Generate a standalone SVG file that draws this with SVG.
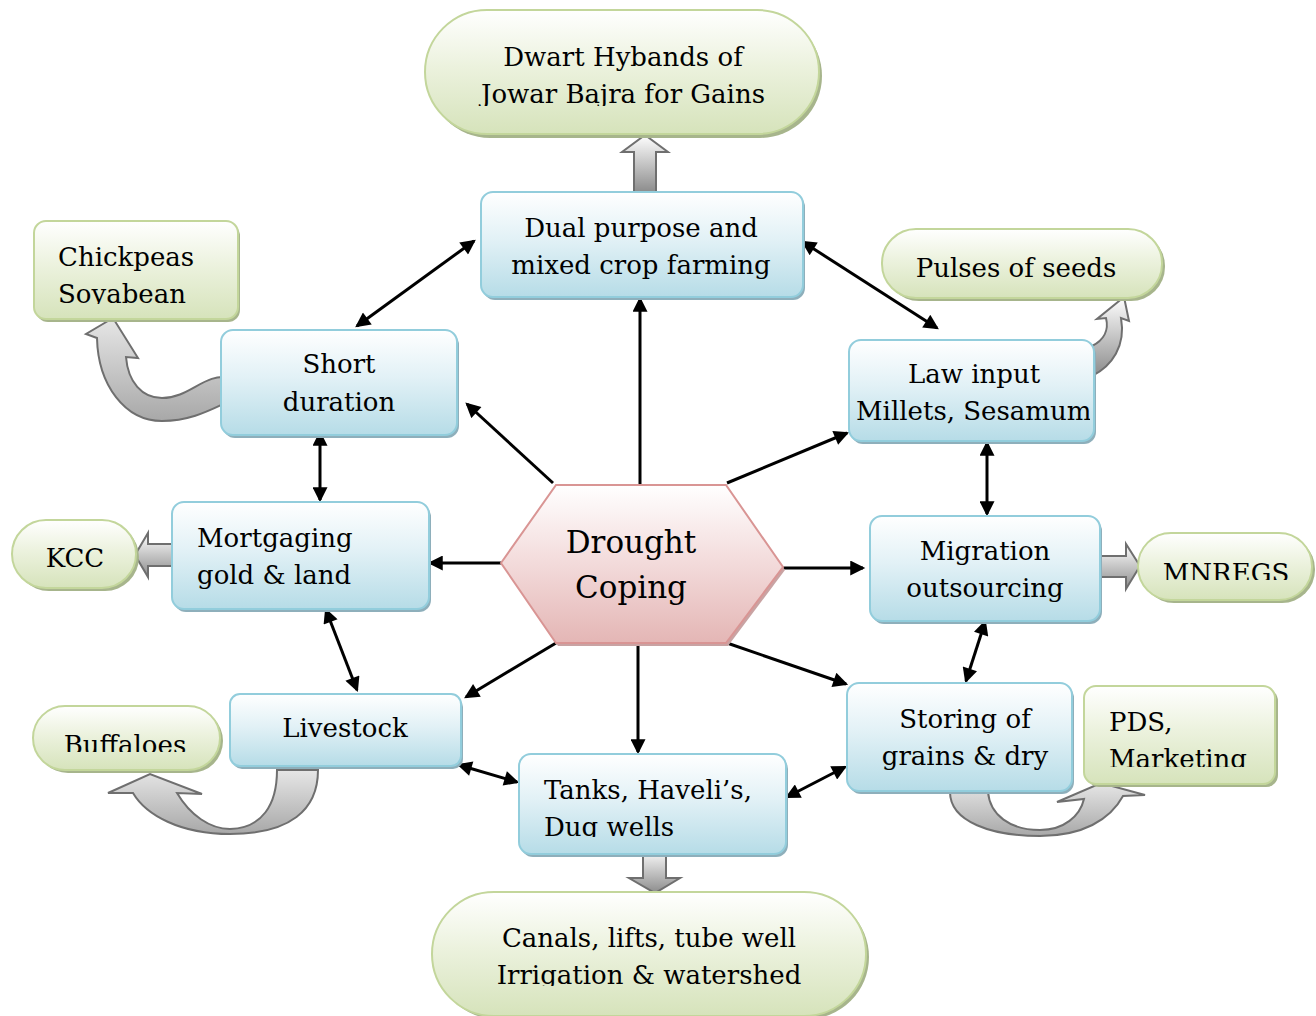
<svg xmlns="http://www.w3.org/2000/svg" width="1316" height="1016" viewBox="0 0 1316 1016">
<style>
.t{font-family:"DejaVu Serif","Liberation Serif",serif;font-size:26px;fill:#000}
.c{text-anchor:middle}
.big{font-size:31px}
.blue{fill:url(#gBlue);stroke:#92cddc;stroke-width:2}
.green{fill:url(#gGreen);stroke:#c3d69b;stroke-width:2}
.sb{fill:#8eafbb}
.sg{fill:#a7b58c}
.conn{stroke:#000;stroke-width:3;fill:none}
.blk{stroke:#6f6f6f;stroke-width:2}
</style>
<defs>
<linearGradient id="gBlue" x1="0" y1="0" x2="0" y2="1"><stop offset="0" stop-color="#ffffff"/><stop offset="0.45" stop-color="#e2f1f6"/><stop offset="1" stop-color="#b6dce7"/></linearGradient>
<linearGradient id="gGreen" x1="0" y1="0" x2="0" y2="1"><stop offset="0" stop-color="#ffffff"/><stop offset="0.45" stop-color="#ecf2de"/><stop offset="1" stop-color="#d6e3bb"/></linearGradient>
<linearGradient id="gPink" x1="0" y1="0" x2="0" y2="1"><stop offset="0" stop-color="#ffffff"/><stop offset="0.45" stop-color="#f4dede"/><stop offset="1" stop-color="#e4b6b5"/></linearGradient>
<linearGradient id="gGrayV" x1="0" y1="0" x2="0" y2="1"><stop offset="0" stop-color="#ffffff"/><stop offset="1" stop-color="#8c8c8c"/></linearGradient>
<linearGradient id="gGrayD" x1="0" y1="0" x2="0" y2="1"><stop offset="0" stop-color="#f2f2f2"/><stop offset="1" stop-color="#8c8c8c"/></linearGradient>
<linearGradient id="gGrayC" x1="0" y1="0" x2="0" y2="1"><stop offset="0" stop-color="#e6e6e6"/><stop offset="1" stop-color="#a8a8a8"/></linearGradient>
<marker id="ah" viewBox="0 0 10 10" refX="8.5" refY="5" markerUnits="userSpaceOnUse" markerWidth="17" markerHeight="15" orient="auto-start-reverse"><path d="M0,0 L10,5 L0,10 z" fill="#000"/></marker>
<clipPath id="clipDwart"><rect x="0" y="0" width="1316" height="106"/></clipPath>
<clipPath id="clipChick"><rect x="0" y="0" width="1316" height="304"/></clipPath>
<clipPath id="clipBuff"><rect x="0" y="0" width="1316" height="752"/></clipPath>
<clipPath id="clipMN"><rect x="0" y="0" width="1316" height="580"/></clipPath>
<clipPath id="clipDug"><rect x="0" y="0" width="1316" height="837"/></clipPath>
<clipPath id="clipPDS"><rect x="0" y="0" width="1316" height="767"/></clipPath>
<clipPath id="clipCanal"><rect x="0" y="0" width="1316" height="986"/></clipPath>
<clipPath id="clipLaw"><rect x="0" y="0" width="1090" height="1016"/></clipPath>
</defs>
<rect width="1316" height="1016" fill="#ffffff"/>

<g id="block-arrows">
<polygon class="blk" fill="url(#gGrayV)" points="634,192 634,152 622,152 645,135 668,152 656,152 656,192"/>
<polygon class="blk" fill="url(#gGrayD)" points="643,854 666,854 666,878 680,878 655,893 629,878 643,878"/>
<polygon class="blk" fill="url(#gGrayV)" points="172,544 148,544 148,533 135,555 148,577 148,566 172,566"/>
<polygon class="blk" fill="url(#gGrayV)" points="1100,556 1126,556 1126,544 1140,566 1126,589 1126,577 1100,577"/>
<path class="blk" fill="url(#gGrayC)" d="M230,378 C205,372 190,398 162,398 C142,398 128,382 126,357 L138,358 L113,318 L86,334 L97,338 C98,385 125,421 162,421 C192,421 212,409 230,401 Z"/>
<path class="blk" fill="url(#gGrayV)" d="M1092,346 C1104,340 1109,330 1106,318 L1097,319 L1124,297 L1129,321 L1121,318 C1126,346 1112,366 1092,376 Z"/>
<path class="blk" fill="url(#gGrayC)" d="M277,770 L318,770 C318,810 290,834 230,834 C180,834 146,815 133,793 L108,793 L150,774 L202,794 L177,793 C190,815 210,829 230,829 C262,828 277,805 277,770 Z"/>
<path class="blk" fill="url(#gGrayC)" d="M950,792 L988,792 C990,815 1010,830 1040,830 C1064,830 1080,816 1084,799 L1057,802 L1101,783 L1145,795 L1123,796 C1110,820 1082,836 1040,836 C992,836 950,822 950,792 Z"/>
</g>

<g id="connectors">
<line class="conn" x1="357" y1="326" x2="474" y2="241" marker-start="url(#ah)" marker-end="url(#ah)"/>
<line class="conn" x1="803" y1="242" x2="937" y2="328" marker-start="url(#ah)" marker-end="url(#ah)"/>
<line class="conn" x1="640" y1="484" x2="640" y2="299" marker-end="url(#ah)"/>
<line class="conn" x1="553" y1="483" x2="467" y2="404" marker-end="url(#ah)"/>
<line class="conn" x1="727" y1="483" x2="847" y2="433" marker-end="url(#ah)"/>
<line class="conn" x1="320" y1="433" x2="320" y2="500" marker-start="url(#ah)" marker-end="url(#ah)"/>
<line class="conn" x1="987" y1="443" x2="987" y2="514" marker-start="url(#ah)" marker-end="url(#ah)"/>
<line class="conn" x1="502" y1="563" x2="430" y2="563" marker-end="url(#ah)"/>
<line class="conn" x1="783" y1="568" x2="863" y2="568" marker-end="url(#ah)"/>
<line class="conn" x1="326" y1="610" x2="357" y2="690" marker-start="url(#ah)" marker-end="url(#ah)"/>
<line class="conn" x1="985" y1="622" x2="966" y2="681" marker-start="url(#ah)" marker-end="url(#ah)"/>
<line class="conn" x1="556" y1="643" x2="466" y2="697" marker-end="url(#ah)"/>
<line class="conn" x1="638" y1="645" x2="638" y2="752" marker-end="url(#ah)"/>
<line class="conn" x1="727" y1="643" x2="846" y2="684" marker-end="url(#ah)"/>
<line class="conn" x1="459" y1="765" x2="517" y2="782" marker-start="url(#ah)" marker-end="url(#ah)"/>
<line class="conn" x1="787" y1="797" x2="845" y2="767" marker-start="url(#ah)" marker-end="url(#ah)"/>
</g>

<g id="n-dwart">
<rect class="sg" x="428" y="14" width="394" height="124" rx="62"/>
<rect class="green" x="425" y="10" width="394" height="124" rx="62"/>
<g clip-path="url(#clipDwart)"><text class="t c" x="623" y="66">Dwart Hybands of</text><text class="t c" x="623" y="103">Jowar Bajra for Gains</text></g>
</g>

<g id="n-dual">
<rect class="sb" x="483" y="195" width="322" height="105" rx="12"/>
<rect class="blue" x="481" y="192" width="322" height="105" rx="12"/>
<text class="t c" x="641" y="237">Dual purpose and</text>
<text class="t c" x="641" y="274">mixed crop farming</text>
</g>

<g id="n-chick">
<rect class="sg" x="36" y="224" width="204" height="98" rx="12"/>
<rect class="green" x="34" y="221" width="204" height="98" rx="12"/>
<g clip-path="url(#clipChick)"><text class="t" x="58" y="266">Chickpeas</text><text class="t" x="58" y="303">Soyabean</text></g>
</g>

<g id="n-short">
<rect class="sb" x="223" y="333" width="236" height="105" rx="12"/>
<rect class="blue" x="221" y="330" width="236" height="105" rx="12"/>
<text class="t c" x="339" y="373">Short</text>
<text class="t c" x="339" y="411">duration</text>
</g>

<g id="n-pulses">
<rect class="sg" x="885" y="232" width="280" height="69" rx="34"/>
<rect class="green" x="882" y="229" width="280" height="69" rx="34"/>
<text class="t c" x="1016" y="277">Pulses of seeds</text>
</g>

<g id="n-law">
<rect class="sb" x="851" y="343" width="245" height="101" rx="12"/>
<rect class="blue" x="849" y="340" width="245" height="101" rx="12"/>
<g clip-path="url(#clipLaw)"><text class="t c" x="974" y="383">Law input</text><text class="t" x="856" y="420">Millets, Sesamum</text></g>
</g>

<g id="n-kcc">
<rect class="sg" x="15" y="523" width="124" height="68" rx="34"/>
<rect class="green" x="12" y="520" width="124" height="68" rx="34"/>
<text class="t c" x="75" y="567">KCC</text>
</g>

<g id="n-mortgage">
<rect class="sb" x="174" y="505" width="257" height="107" rx="12"/>
<rect class="blue" x="172" y="502" width="257" height="107" rx="12"/>
<text class="t" x="197" y="547">Mortgaging</text>
<text class="t" x="197" y="584">gold &amp; land</text>
</g>

<g id="n-drought">
<polygon fill="#c9a3a3" points="503,566 558,488 728,488 785,570 728,646 558,646"/>
<polygon fill="url(#gPink)" stroke="#d99594" stroke-width="2" points="501,563 556,485 726,485 783,567 726,643 556,643"/>
<text class="t c big" x="631" y="553">Drought</text>
<text class="t c big" x="631" y="598">Coping</text>
</g>

<g id="n-migration">
<rect class="sb" x="872" y="519" width="230" height="105" rx="12"/>
<rect class="blue" x="870" y="516" width="230" height="105" rx="12"/>
<text class="t c" x="985" y="560">Migration</text>
<text class="t c" x="985" y="597">outsourcing</text>
</g>

<g id="n-mnregs">
<rect class="sg" x="1141" y="536" width="174" height="67" rx="33"/>
<rect class="green" x="1138" y="533" width="174" height="67" rx="33"/>
<g clip-path="url(#clipMN)"><text class="t c" x="1226" y="582">MNREGS</text></g>
</g>

<g id="n-livestock">
<rect class="sb" x="232" y="697" width="231" height="72" rx="10"/>
<rect class="blue" x="230" y="694" width="231" height="72" rx="10"/>
<text class="t c" x="345" y="737">Livestock</text>
</g>

<g id="n-buffaloes">
<rect class="sg" x="36" y="709" width="187" height="64" rx="32"/>
<rect class="green" x="33" y="706" width="187" height="64" rx="32"/>
<g clip-path="url(#clipBuff)"><text class="t c" x="125" y="754">Buffaloes</text></g>
</g>

<g id="n-tanks">
<rect class="sb" x="521" y="757" width="267" height="100" rx="12"/>
<rect class="blue" x="519" y="754" width="267" height="100" rx="12"/>
<g clip-path="url(#clipDug)"><text class="t" x="544" y="799">Tanks, Haveli’s,</text><text class="t" x="544" y="836">Dug wells</text></g>
</g>

<g id="n-canals">
<rect class="sg" x="435" y="895" width="434" height="124" rx="62"/>
<rect class="green" x="432" y="892" width="434" height="124" rx="62"/>
<g clip-path="url(#clipCanal)"><text class="t c" x="649" y="947">Canals, lifts, tube well</text><text class="t c" x="649" y="984">Irrigation &amp; watershed</text></g>
</g>

<g id="n-storing">
<rect class="sb" x="849" y="686" width="225" height="108" rx="12"/>
<rect class="blue" x="847" y="683" width="225" height="108" rx="12"/>
<text class="t c" x="965" y="728">Storing of</text>
<text class="t c" x="965" y="765">grains &amp; dry</text>
</g>

<g id="n-pds">
<rect class="sg" x="1087" y="689" width="191" height="98" rx="12"/>
<rect class="green" x="1084" y="686" width="191" height="98" rx="12"/>
<g clip-path="url(#clipPDS)"><text class="t" x="1109" y="731">PDS,</text><text class="t" x="1109" y="768">Marketing</text></g>
</g>
</svg>
